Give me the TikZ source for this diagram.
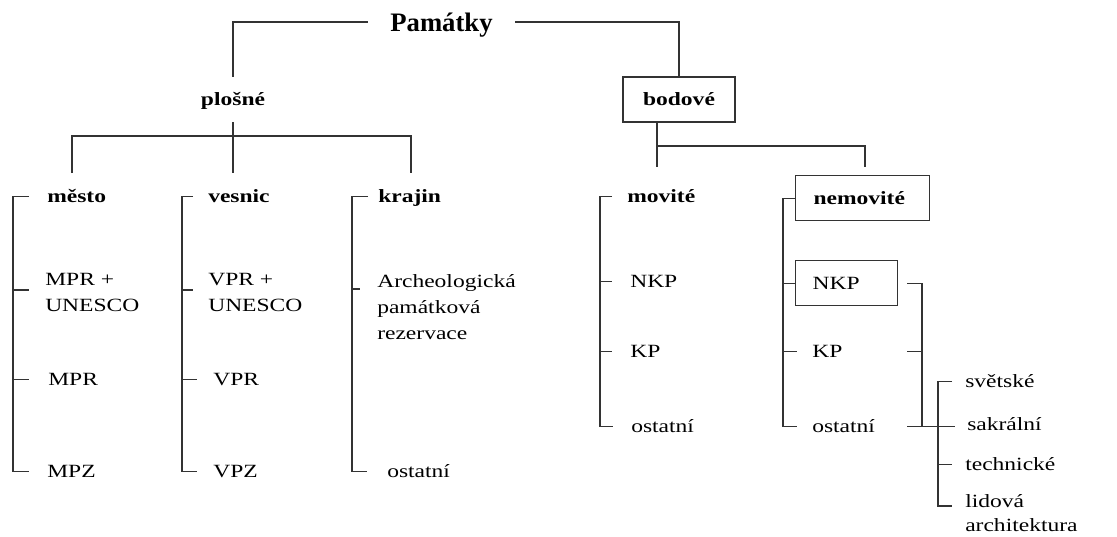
\documentclass[tikz,border=0pt]{standalone}
\usepackage{fontspec}
\setmainfont{Liberation Serif}[FakeStretch=1.26]
\newfontfamily\titlefont{Liberation Serif}
\usetikzlibrary{calc}

\begin{document}
\begin{tikzpicture}[x=0.75pt, y=-0.75pt,
    font=\fontsize{14}{19.5}\selectfont,
    ln/.style={line width=0.8pt, draw=black!80},
    lf/.style={anchor=west, inner sep=0pt, text height=9.7pt, text depth=0pt},
    hd/.style={lf, font=\fontsize{14}{19.5}\selectfont\bfseries},
    ml/.style={anchor=north west, inner sep=0pt, align=left},
    bx/.style={inner ysep=0pt, minimum width=84pt, minimum height=33.75pt,
        text height=9.7pt, text depth=0pt, font=\fontsize{14}{19.5}\selectfont\bfseries},
    kbx/.style={ln, anchor=north west, inner ysep=0pt, minimum height=33.75pt,
        text height=9.7pt, text depth=0pt, align=left}]
    \useasboundingbox (0,0) rectangle (1117,536);

    % Top of the tree
    \node[inner xsep=16.9pt, inner ysep=0pt, text depth=0pt,
        font=\titlefont\bfseries\fontsize{20}{24}\selectfont] (pam) at (441.5,22) {Památky};
    \node[bx] (plosne) at (233,99.5) {plošné};
    \node[bx, ln] (bodove) at (679,99.5) {bodové};

    \draw[ln] (pam.west) -| (plosne.north);
    \draw[ln] (pam.east) -| (bodove.north);

    % plošné and its three groups
    \coordinate (plosne-bus) at (233,136);
    \coordinate (mesto-in) at (72,173);
    \coordinate (vesnic-in) at (233,173);
    \coordinate (krajin-in) at (411,173);
    \draw[ln] (plosne.south) -- (vesnic-in);
    \draw[ln] (mesto-in) |- (plosne-bus) -| (krajin-in);

    % bodové and its two groups
    \coordinate (bodove-bus) at (657,146);
    \coordinate (movite-in) at (657,167);
    \coordinate (nemovite-in) at (865,167);
    \draw[ln] (bodove.south -| bodove-bus) -- (movite-in);
    \draw[ln] (bodove-bus) -| (nemovite-in);

    % město
    \node[hd] (mesto) at (47,196.5) {město};
    \node[ml] (mprU) at (45,273.5) {MPR +\\UNESCO};
    \node[lf] (mpr) at (48,379.5) {MPR};
    \node[lf] (mpz) at (47,471.5) {MPZ};
    \coordinate (ms) at (13,0);
    \draw[ln] ($(ms |- mesto)+(16,0)$) -| (ms |- mpz) -- ++(16,0);
    \draw[ln] ($(ms |- mprU.north)+(0,16.5)$) -- ++(16,0);
    \draw[ln] (ms |- mpr) -- ++(16,0);

    % vesnic
    \node[hd] (vesnic) at (208,196.5) {vesnic};
    \node[ml] (vprU) at (208,273.5) {VPR +\\UNESCO};
    \node[lf] (vpr) at (213,379.5) {VPR};
    \node[lf] (vpz) at (213,471.5) {VPZ};
    \coordinate (vs) at (182,0);
    \draw[ln] ($(vs |- vesnic)+(11,0)$) -| (vs |- vpz) -- ++(15,0);
    \draw[ln] ($(vs |- vprU.north)+(0,16.5)$) -- ++(11,0);
    \draw[ln] (vs |- vpr) -- ++(15,0);

    % krajin
    \node[hd] (krajin) at (378,196.5) {krajin};
    \node[ml] (arch) at (377,274) {Archeologická\\památková\\rezervace};
    \node[lf] (ostK) at (387,471.5) {ostatní};
    \coordinate (ks) at (352,0);
    \draw[ln] ($(ks |- krajin)+(16,0)$) -| (ks |- ostK) -- ++(15,0);
    \draw[ln] ($(ks |- arch.north)+(0,15)$) -- ++(8,0);

    % movité
    \node[hd] (movite) at (627,196.5) {movité};
    \node[lf] (nkpM) at (630,281.5) {NKP};
    \node[lf] (kpM) at (630,351.5) {KP};
    \node[lf] (ostM) at (631,426.5) {ostatní};
    \coordinate (msp) at (600,0);
    \draw[ln] ($(msp |- movite)+(12,0)$) -| (msp |- ostM) -- ++(13,0);
    \draw[ln] (msp |- nkpM) -- ++(12,0);
    \draw[ln] (msp |- kpM) -- ++(12,0);

    % nemovité
    \node[kbx, inner xsep=13.5pt, text width=73.5pt,
        font=\fontsize{14}{19.5}\selectfont\bfseries] (nemovite) at (795,175) {nemovité};
    \node[kbx, inner xsep=12.75pt, text width=51pt] (nkpN) at (795,260) {NKP};
    \node[lf] (kpN) at (812,351.5) {KP};
    \node[lf] (ostN) at (812,426.5) {ostatní};
    \coordinate (nsp) at (783,0);
    \draw[ln] (nemovite.west) -- (nsp |- nemovite.west) -- (nsp |- ostN) -- ++(14,0);
    \draw[ln] (nsp |- nkpN) -- (nkpN.west);
    \draw[ln] (nsp |- kpN) -- ++(14,0);

    % kinds of ostatní
    \node[lf] (svetske) at (965,381.5) {světské};
    \node[lf] (sakralni) at (967,424) {sakrální};
    \node[lf] (technicke) at (965,464.5) {technické};
    \node[ml, font=\fontsize{14}{18.5}\selectfont] (lidova) at (965,494) {lidová\\architektura};
    \coordinate (rtk) at (907,0);
    \coordinate (rsp) at (922,0);
    \coordinate (ssp) at (938,0);
    \draw[ln] (rtk |- nkpN) -| (rsp |- ostN);
    \draw[ln] (rtk |- kpN) -- (rsp |- kpN);
    \draw[ln] (rtk |- ostN) -- (ssp |- ostN) -- ++(17,0);
    \draw[ln] ($(ssp |- svetske)+(14,0)$) -| ($(ssp |- lidova.north)+(0,12)$) -- ++(14,0);
    \draw[ln] (ssp |- technicke) -- ++(14,0);

\end{tikzpicture}
\end{document}
